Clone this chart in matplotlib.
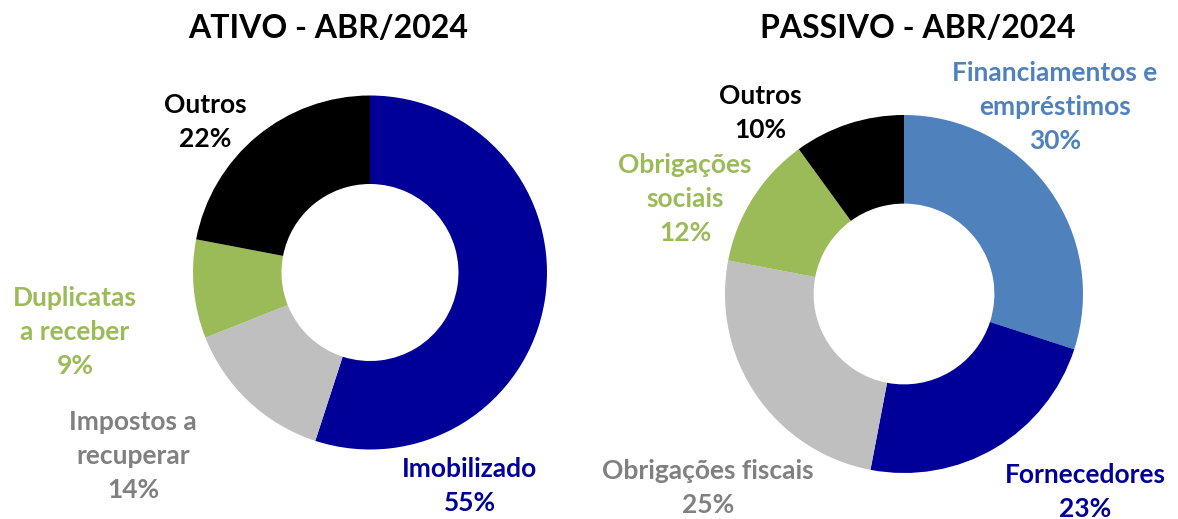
import matplotlib
matplotlib.use("Agg")
import matplotlib.pyplot as plt

# ---- data ----
ativo_labels = ["Imobilizado", "Impostos a\nrecuperar", "Duplicatas\na receber", "Outros"]
ativo_values = [55, 14, 9, 22]
passivo_labels = ["Financiamentos e\nempréstimos", "Fornecedores", "Obrigações fiscais",
                  "Obrigações\nsociais", "Outros"]
passivo_values = [30, 23, 25, 12, 10]
title_ativo = "ATIVO - ABR/2024"
title_passivo = "PASSIVO - ABR/2024"

ativo_colors = ["#000099", "#BFBFBF", "#9BBB59", "#000000"]
ativo_text_colors = ["#000099", "#808080", "#9BBB59", "#000000"]
passivo_colors = ["#4F81BD", "#000099", "#BFBFBF", "#9BBB59", "#000000"]
passivo_text_colors = ["#4F81BD", "#000099", "#808080", "#9BBB59", "#000000"]

W, H = 1178, 519
fig = plt.figure(figsize=(W / 100, H / 100), dpi=100)
ax = fig.add_axes([0, 0, 1, 1])

FONT = "Lato"

def Y(y):
    return H - y

def donut(values, colors, cx, cy, r, ratio):
    wedges, _ = ax.pie(values, colors=colors, startangle=90, counterclock=False,
                       center=(cx, Y(cy)), radius=r,
                       wedgeprops=dict(width=r * (1 - ratio), linewidth=0),
                       frame=True)
    return wedges

donut(ativo_values, ativo_colors, 370, 272.5, 177, 0.5)
donut(passivo_values, passivo_colors, 904, 294, 179, 0.505)
ax.set_xlim(0, W)
ax.set_ylim(0, H)
ax.set_aspect("equal")
ax.axis("off")

ax.text(328, Y(29), title_ativo, ha="center", va="center", fontsize=23,
        fontweight="bold", family=FONT, color="black")
ax.text(918, Y(29), title_passivo, ha="center", va="center", fontsize=23,
        fontweight="bold", family=FONT, color="black")

ativo_pos = [(470, 486), (133, 456), (75, 332), (205, 122)]
passivo_pos = [(1055, 107), (1085, 492), (708, 488), (685, 199), (760, 113)]

for lab, val, (x, y), c in zip(ativo_labels, ativo_values, ativo_pos, ativo_text_colors):
    ax.text(x, Y(y), f"{lab}\n{val}%", ha="center", va="center", fontsize=19,
            fontweight="bold", family=FONT, color=c, linespacing=1.5)
for lab, val, (x, y), c in zip(passivo_labels, passivo_values, passivo_pos, passivo_text_colors):
    ax.text(x, Y(y), f"{lab}\n{val}%", ha="center", va="center", fontsize=19,
            fontweight="bold", family=FONT, color=c, linespacing=1.5)

fig.savefig("out.png", dpi=100, facecolor="white")
